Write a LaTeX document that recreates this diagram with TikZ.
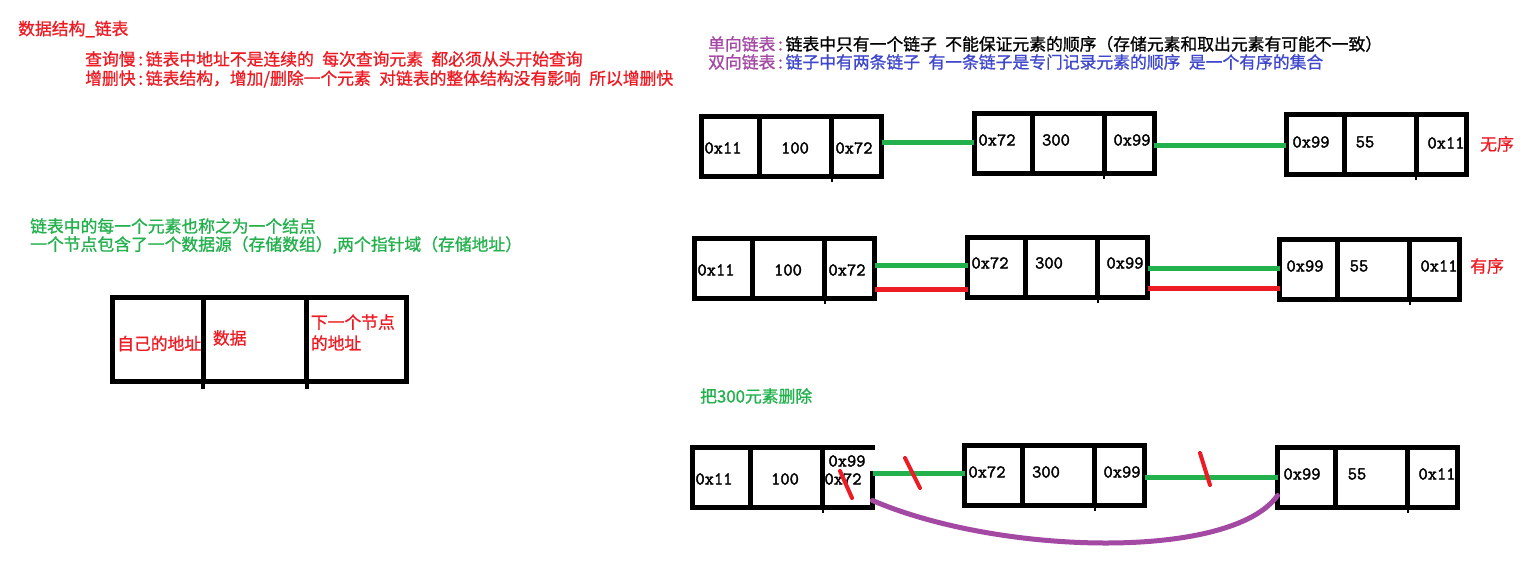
\documentclass[tikz,border=0pt]{standalone}
\usepackage{fontspec}
\setmainfont{Noto Sans CJK SC}[FakeBold=1]
\setmonofont{Latin Modern Mono}[FakeBold=2]
\usepackage{tikz}
\usetikzlibrary{positioning}

\definecolor{paintred}{RGB}{237,28,36}
\definecolor{paintgreen}{RGB}{34,177,76}
\definecolor{paintpurple}{RGB}{163,73,164}
\definecolor{paintblue}{RGB}{63,72,204}

\tikzset{
    cell/.style={draw, line width=5pt, inner sep=0pt, outer sep=0pt, minimum height=60pt},
    addr/.style={inner sep=0pt, font=\ttfamily\fontsize{18}{18}\selectfont},
    note/.style={inner sep=0pt, anchor=west, font=\fontsize{16.8}{21}\selectfont,
        execute at begin node={\spaceskip=0.5em\relax}},
    link/.style={line width=5pt, paintgreen},
    cut/.style={line width=4pt, paintred, line cap=round},
}

\begin{document}
\begin{tikzpicture}[x=1pt, y=-1pt]
    \fill[white] (0,0) rectangle (1536,565);
    \useasboundingbox (0,0) rectangle (1536,565);

    % notes on the left
    \node[note, paintred] (title) at (18,29) {数据结构\_链表};
    \node[note, paintred] (slow) at (85,59) {查询慢\,:\,链表中地址不是连续的 每次查询元素 都必须从头开始查询};
    \node[note, paintred] (fast) at (85,79) {增删快\,:\,链表结构，增加/删除一个元素 对链表的整体结构没有影响 所以增删快};
    \node[note, paintgreen] (elem) at (30,226) {链表中的每一个元素也称之为一个结点};
    \node[note, paintgreen] (parts) at (30,245) {一个节点包含了一个数据源（存储数组）,两个指针域（存储地址）};

    % one node
    \node[cell, minimum width=90.8pt, minimum height=84pt, anchor=north west] (self) at (112.5,297.5) {};
    \node[cell, minimum width=103.4pt, minimum height=84pt, right=0pt of self] (data) {};
    \node[cell, minimum width=99.8pt, minimum height=84pt, right=0pt of data] (next) {};
    \draw[line width=4pt] (self.south east) -- ++(0,7);
    \draw[line width=4pt] (data.south east) -- ++(0,7);
    \node[note, paintred] (selftxt) at (117,343.5) {自己的地址};
    \node[note, paintred] (datatxt) at (212.7,338) {数据};
    \node[note, paintred, align=left] (nexttxt) at (310.7,332.5) {下一个节点\\的地址};

    % notes on the right
    \node[note] (single) at (708,44) {\textcolor{paintpurple}{单向链表\,:\,}链表中只有一个链子 不能保证元素的顺序（存储元素和取出元素有可能不一致）};
    \node[note, paintblue] (double) at (708,62) {\textcolor{paintpurple}{双向链表\,:\,}链子中有两条链子 有一条链子是专门记录元素的顺序 是一个有序的集合};
    \node[note, paintgreen] (delete) at (700,396) {把300元素删除};

    % the boxes of the three lists
    \foreach \bx/\x/\y in {r1a/699/114, r1b/971.5/111, r1c/1283.5/112,
                           r2a/692/236, r2b/965/235, r2c/1277/237,
                           r3a/690/445, r3b/962/443, r3c/1275/445} {
        \node[cell, minimum width=58.4pt, anchor=north west] (\bx1) at (\x+2.5,\y+2.5) {};
        \node[cell, minimum width=71.6pt, right=0pt of \bx1] (\bx2) {};
        \node[cell, minimum width=50pt, right=0pt of \bx2] (\bx3) {};
        \draw[line width=2pt] (\bx2.south east) -- ++(0,5);
    }
    \fill[white] (869.8,450) rectangle (875.6,471);

    % values in the boxes
    \foreach \lab/\x/\y/\val in {v1a1/723/148/0x11, v1a2/795/148/100, v1a3/854/148/0x72,
                                 v1b1/997/140/0x72, v1b2/1056/140/300, v1b3/1132/140/0x99,
                                 v1c1/1311/142/0x99, v1c2/1365/142/55, v1c3/1446/143/0x11,
                                 v2a1/716/270/0x11, v2a2/788/270/100, v2a3/847/270/0x72,
                                 v2b1/990/263/0x72, v2b2/1049/263/300, v2b3/1125/263/0x99,
                                 v2c1/1305/266/0x99, v2c2/1359/266/55, v2c3/1439/266/0x11,
                                 v3a1/714/479/0x11, v3a2/785/479/100, v3a3/843/479/0x72, v3a4/847/461/0x99,
                                 v3b1/987/472/0x72, v3b2/1046/472/300, v3b3/1122/472/0x99,
                                 v3c1/1302/474/0x99, v3c2/1357/474/55, v3c3/1437/474/0x11}
        \node[addr] (\lab) at (\x,\y) {\val};
    \node[note, paintred] (unordered) at (1480,144) {无序};
    \node[note, paintred] (ordered) at (1470,266) {有序};

    % links
    \draw[link] ([yshift=4.5pt]r1a3.east) coordinate (s1) -- (s1 -| r1b1.west);
    \draw[link] ([yshift=-2pt]r1b3.east) coordinate (s2) -- (s2 -| r1c1.west);
    \draw[link] ([yshift=3.5pt]r2a3.east) coordinate (d1) -- (d1 -| r2b1.west);
    \draw[link, paintred] ([yshift=-20.5pt]r2a3.east) coordinate (d2) -- (d2 -| r2b1.west);
    \draw[link] ([yshift=-0.5pt]r2b3.east) coordinate (d3) -- (d3 -| r2c1.west);
    \draw[link, paintred] ([yshift=-20.5pt]r2b3.east) coordinate (d4) -- (d4 -| r2c1.west);
    \draw[link] ([yshift=4.5pt]r3a3.east) coordinate (e1) -- (e1 -| r3b1.west);
    \draw[link] ([yshift=-1.5pt]r3b3.east) coordinate (e2) -- (e2 -| r3c1.west);
    \draw[link, paintpurple, line cap=round] ([yshift=-23pt]r3a3.east) .. controls +(128,55) and +(-46,65) .. ([yshift=-18pt]r3c1.west);

    % cut marks
    \draw[cut] (840,471) -- (852,498);
    \draw[cut] (905,458) -- (920,488);
    \draw[cut] (1200,453) -- (1210,485);
\end{tikzpicture}
\end{document}
